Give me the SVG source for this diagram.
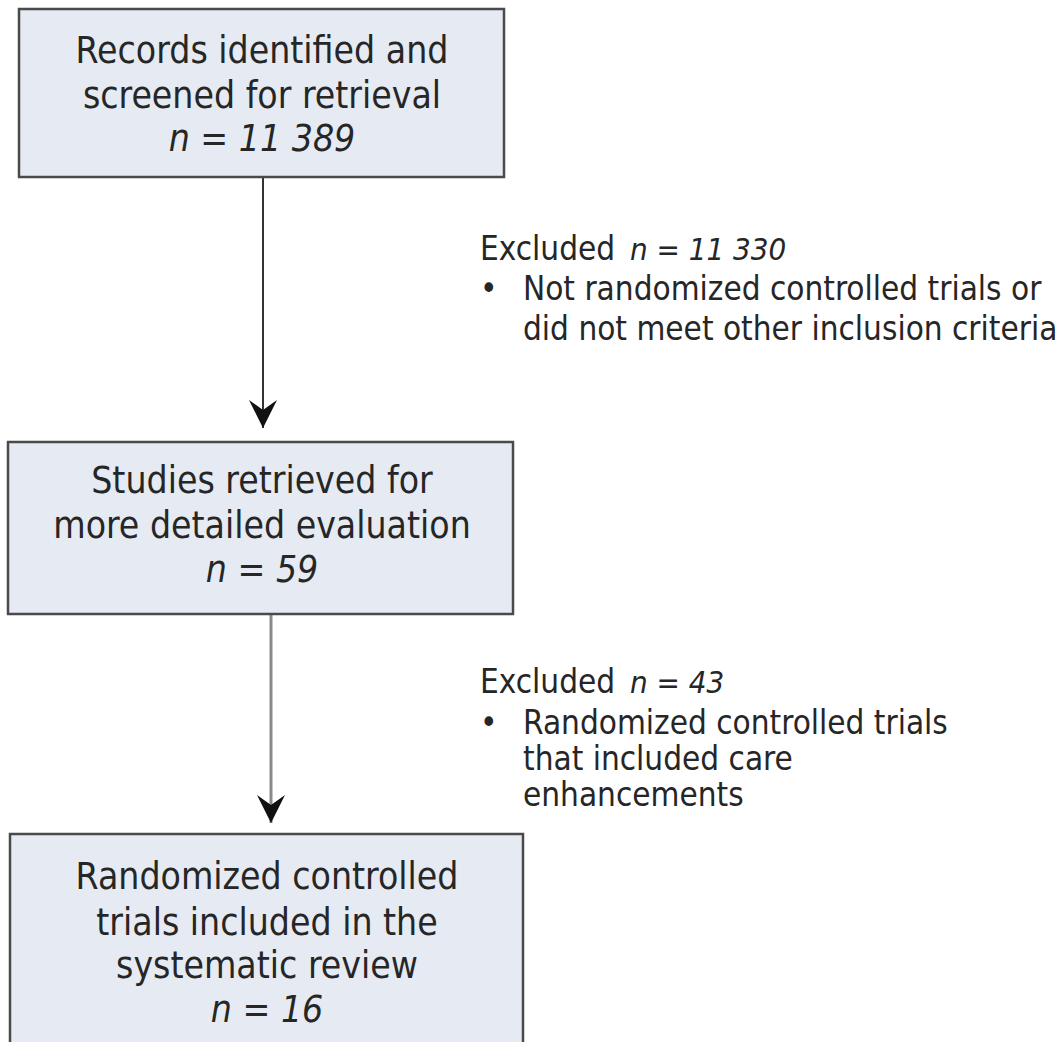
<svg xmlns="http://www.w3.org/2000/svg" width="1062" height="1042" viewBox="0 0 1062 1042">
<style>
.box{fill:#e5eaf3;stroke:#4a4a4a;stroke-width:2.5}
.bt{font-family:"DejaVu Sans Condensed","DejaVu Sans",sans-serif;font-size:37px;fill:#262626;text-anchor:middle}
.st{font-family:"DejaVu Sans Condensed","DejaVu Sans",sans-serif;font-size:33px;fill:#262626}
.it{font-style:italic}
.sm{font-size:31px}
.c1{stroke:#333;stroke-width:2;fill:none}
.c2{stroke:#8a8a8a;stroke-width:3;fill:none}
</style>
<defs>
<marker id="ah" viewBox="0 0 28 28" refX="28" refY="14" markerWidth="28" markerHeight="28" markerUnits="userSpaceOnUse" orient="auto">
<path d="M0,0 L28,14 L0,28 L10,14 Z" fill="#111"/>
</marker>
</defs>
<rect width="1062" height="1042" fill="#fff"/>
<g id="connectors">
<line class="c1" x1="263" y1="177" x2="263" y2="428" marker-end="url(#ah)"/>
<line class="c2" x1="271" y1="615" x2="271" y2="823" marker-end="url(#ah)"/>
</g>
<g id="node1">
<rect class="box" x="19" y="9" width="485" height="168"/>
<text class="bt" x="262" y="63">Records identified and</text>
<text class="bt" x="262" y="108">screened for retrieval</text>
<text class="bt it" x="262" y="151">n = 11 389</text>
</g>
<g id="node2">
<rect class="box" x="8" y="442" width="505" height="172"/>
<text class="bt" x="262" y="493">Studies retrieved for</text>
<text class="bt" x="262" y="538">more detailed evaluation</text>
<text class="bt it" x="262" y="582">n = 59</text>
</g>
<g id="node3">
<rect class="box" x="10" y="834" width="513" height="220"/>
<text class="bt" x="267" y="889">Randomized controlled</text>
<text class="bt" x="267" y="935">trials included in the</text>
<text class="bt" x="267" y="978">systematic review</text>
<text class="bt it" x="267" y="1022">n = 16</text>
</g>
<g id="excl1">
<text class="st" x="480" y="260">Excluded<tspan class="it sm" x="630">n = 11 330</tspan></text>
<text class="st" x="480" y="300">•<tspan x="523">Not randomized controlled trials or</tspan></text>
<text class="st" x="523" y="340">did not meet other inclusion criteria</text>
</g>
<g id="excl2">
<text class="st" x="480" y="693">Excluded<tspan class="it sm" x="630">n = 43</tspan></text>
<text class="st" x="480" y="734">•<tspan x="523">Randomized controlled trials</tspan></text>
<text class="st" x="523" y="770">that included care</text>
<text class="st" x="523" y="806">enhancements</text>
</g>
</svg>
